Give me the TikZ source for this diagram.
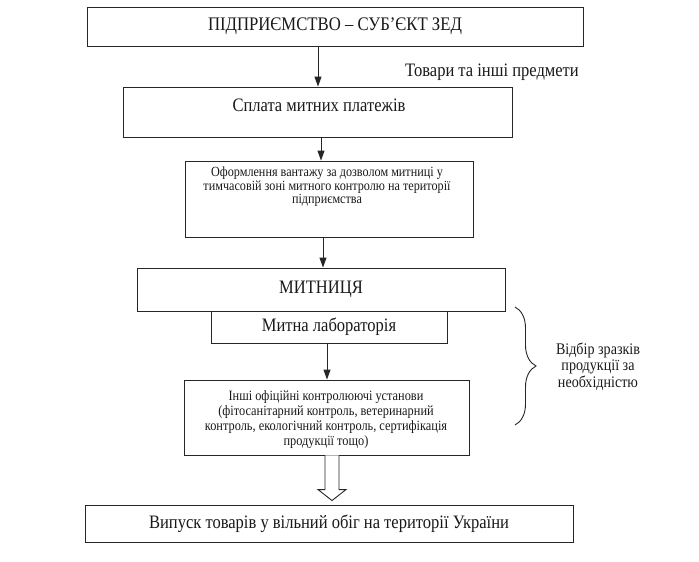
\documentclass[tikz,border=0pt]{standalone}
\usepackage{fontspec}
\setmainfont[FakeStretch=0.87]{Liberation Serif}
\usetikzlibrary{arrows.meta,decorations.pathreplacing,calc}
\begin{document}
\begin{tikzpicture}[x=1pt,y=-1pt,
  box/.style={draw=black!85, line width=0.9pt, inner sep=0pt, text=black!90},
  big/.style={font=\fontsize{19}{22}\selectfont, text=black!90},
  small/.style={font=\fontsize{14}{13.5}\selectfont, align=center, text=black!90, inner sep=0pt},
  arr/.style={draw=black!85, line width=0.9pt, -{Triangle[length=10pt,width=7pt]}},
  hollow/.style={draw=black!85, line width=0.9pt, fill=white},
  bracestyle/.style={draw=black!85, line width=0.9pt, decorate, decoration={brace, amplitude=21pt}}
  ]
\useasboundingbox (0,0) rectangle (699,562);
\fill[white] (0,0) rectangle (699,562);

\node[box, big, font=\fontsize{19.2}{22}\selectfont, minimum width=496pt, minimum height=39pt] (b1) at (335,26.5) {ПІДПРИЄМСТВО – СУБ’ЄКТ ЗЕД};
\node[big, anchor=west, inner sep=0pt] (goods) at (405,72) {Товари та інші предмети};

\node[box, minimum width=389pt, minimum height=50pt] (b2) at (317.5,112) {};
\node[big, inner sep=0pt] (t2) at (319,105) {Сплата митних платежів};

\node[box, minimum width=288pt, minimum height=76pt] (b3) at (329,199) {};
\node[small] (t3) at (327,187) {Оформлення вантажу за дозволом митниці у\\ тимчасовій зоні митного контролю на території\\ підприємства};

\node[box, big, minimum width=368pt, minimum height=43pt] (m) at (321,289.5) {МИТНИЦЯ};
\node[box, big, minimum width=236pt, minimum height=32pt] (lab) at (329,327) {Митна лабораторія};

\node[box, minimum width=285pt, minimum height=75pt] (ins) at (326.5,417.5) {};
\node[small, font=\fontsize{14.2}{15}\selectfont] (t5) at (326,420) {Інші офіційні контролюючі установи\\ (фітосанітарний контроль, ветеринарний\\ контроль, екологічний контроль, сертифікація\\ продукції тощо)};

\node[font=\fontsize{16.2}{16.5}\selectfont, align=center, text=black!90, inner sep=0pt] (sel) at (598,366.5) {Відбір зразків\\ продукції за\\ необхідністю};

\node[box, big, minimum width=488pt, minimum height=37pt] (out) at (329,523.5) {Випуск товарів у вільний обіг на території України};

\coordinate (c1) at (318,0);
\coordinate (c2) at (321,0);
\coordinate (c3) at (323,0);
\coordinate (c4) at (327,0);
\draw[arr] (c1 |- b1.south) -- (c1 |- b2.north);
\draw[arr] (c2 |- b2.south) -- (c2 |- b3.north);
\draw[arr] (c3 |- b3.south) -- (c3 |- m.north);
\draw[arr] (c4 |- lab.south) -- (c4 |- ins.north);

\draw[bracestyle] (515,307) -- (515,425);

\coordinate (h0) at (332,0);
\coordinate (ha) at (h0 |- ins.south);
\coordinate (hb) at ($(h0 |- out.north)+(0,-4)$);
\draw[hollow] ($(ha)+(-7,0)$) -- ($(hb)+(-7,-11)$) -- ($(hb)+(-14,-11)$) -- (hb) -- ($(hb)+(14,-11)$) -- ($(hb)+(7,-11)$) -- ($(ha)+(7,0)$);
\end{tikzpicture}
\end{document}
